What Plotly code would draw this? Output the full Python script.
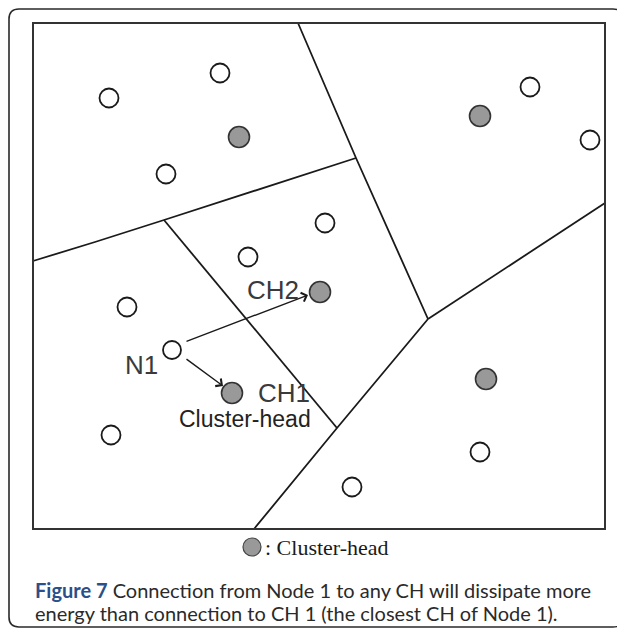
import plotly.graph_objects as go

# ---- data (pixel-like coordinate space of the drawing) ----
node_x = [109, 220, 166, 325, 248, 127, 530, 590, 111, 352, 480]
node_y = [98, 73, 174, 223, 257, 307, 87, 140, 435, 487, 452]

n1_x = [172]
n1_y = [350]

ch_x = [239, 480, 320, 232, 486]
ch_y = [137, 116, 292, 393, 379]

# Voronoi boundaries (polylines)
edge_top_x = [298, 356, 428]
edge_top_y = [23, 158, 319]
edge_left_x = [33, 95, 164, 356]
edge_left_y = [261, 242, 220, 158]
edge_mid_x = [164, 337]
edge_mid_y = [220, 428]
edge_right_x = [428, 605]
edge_right_y = [319, 203]
edge_bottom_x = [428, 337, 254]
edge_bottom_y = [319, 428, 529]

# arrows: (tail_x, tail_y, head_x, head_y)
arrow_tail_x = [185, 185]
arrow_tail_y = [342, 358]
arrow_head_x = [308, 223]
arrow_head_y = [295, 386]

labels = ["CH2", "N1", "CH1", "Cluster-head"]
label_x = [245, 123, 256, 177]
label_y = [290, 365, 393, 419]
label_sizes = [26, 26, 26, 23]

legend_text = ": Cluster-head"
caption_bold = "Figure 7"
caption_line1 = " Connection from Node 1 to any CH will dissipate more"
caption_line2 = "energy than connection to CH 1 (the closest CH of Node 1)."

# The page body has an 8px margin; map data units to window pixels.
OFF = 8
W, H = 625, 630
box = dict(x0=33, x1=605, y0=23, y1=529)

fig = go.Figure()

line_style = dict(color="#1a1a1a", width=1.8)
for ex, ey in [(edge_top_x, edge_top_y), (edge_left_x, edge_left_y),
               (edge_mid_x, edge_mid_y), (edge_right_x, edge_right_y),
               (edge_bottom_x, edge_bottom_y)]:
    fig.add_trace(go.Scatter(x=ex, y=ey, mode="lines", line=line_style,
                             hoverinfo="skip", showlegend=False))

fig.add_trace(go.Scatter(
    x=node_x, y=node_y, mode="markers", showlegend=False,
    marker=dict(symbol="circle", size=19, color="white",
                line=dict(color="#1a1a1a", width=1.8))))
fig.add_trace(go.Scatter(
    x=n1_x, y=n1_y, mode="markers", showlegend=False,
    marker=dict(symbol="circle", size=18, color="white",
                line=dict(color="#1a1a1a", width=1.8))))
fig.add_trace(go.Scatter(
    x=ch_x, y=ch_y, mode="markers", showlegend=False,
    marker=dict(symbol="circle", size=21, color="#999999",
                line=dict(color="#333333", width=1.6))))

# legend marker
fig.add_trace(go.Scatter(
    x=[252], y=[547], mode="markers", showlegend=False,
    marker=dict(symbol="circle", size=18, color="#999999",
                line=dict(color="#444444", width=1.2))))

for tx, ty, hx, hy in zip(arrow_tail_x, arrow_tail_y, arrow_head_x, arrow_head_y):
    fig.add_annotation(x=hx, y=hy, ax=tx, ay=ty, xref="x", yref="y",
                       axref="x", ayref="y", text="", showarrow=True,
                       arrowhead=4, arrowsize=1.3, arrowwidth=1.4,
                       arrowcolor="#1a1a1a", standoff=0, startstandoff=0)

for t, lx, ly, fs in zip(labels, label_x, label_y, label_sizes):
    fig.add_annotation(x=lx, y=ly, text=t, showarrow=False, xanchor="left",
                       yanchor="middle", xref="x", yref="y",
                       font=dict(family="Liberation Sans, Arial", size=fs,
                                 color="#222222" if fs < 24 else "#3a3a3a"))

fig.add_annotation(x=263, y=547, text=legend_text, showarrow=False,
                   xanchor="left", yanchor="middle", xref="x", yref="y",
                   font=dict(family="Liberation Serif, Times New Roman", size=22,
                             color="#1a1a1a"))

fig.add_annotation(x=33, y=590, xref="x", yref="y", showarrow=False,
                   xanchor="left", yanchor="middle",
                   text=f"<b><span style='color:#2b4f8a'>{caption_bold}</span></b>{caption_line1}",
                   font=dict(family="Lato", size=20, color="#2a2a2a"))
fig.add_annotation(x=33, y=613, xref="x", yref="y", showarrow=False,
                   xanchor="left", yanchor="middle",
                   text=caption_line2,
                   font=dict(family="Lato", size=20, color="#2a2a2a"))

# plot box
fig.add_shape(type="rect", xref="x", yref="y", **box,
              line=dict(color="#333333", width=2), layer="above")

# outer rounded border
L, R, T, B, r = 9, 623, 9, 627, 10
path = (f"M {L+r},{T} L {R-r},{T} Q {R},{T} {R},{T+r} L {R},{B-r} "
        f"Q {R},{B} {R-r},{B} L {L+r},{B} Q {L},{B} {L},{B-r} "
        f"L {L},{T+r} Q {L},{T} {L+r},{T} Z")
fig.add_shape(type="path", path=path, xref="x", yref="y",
              line=dict(color="#2a2a2a", width=1.6))

fig.update_layout(
    width=W - OFF, height=H - OFF, margin=dict(l=0, r=0, t=0, b=0),
    paper_bgcolor="white", plot_bgcolor="white",
    xaxis=dict(range=[OFF, W], visible=False, fixedrange=True),
    yaxis=dict(range=[H, OFF], visible=False, fixedrange=True),
)

fig.write_html("out.html")
